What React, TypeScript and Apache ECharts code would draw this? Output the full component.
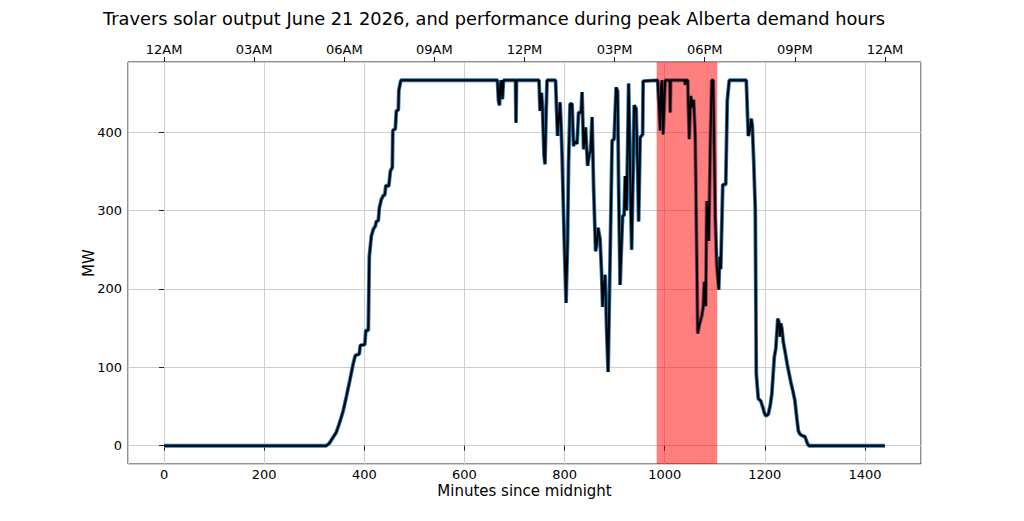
import React, { useEffect, useRef } from "react";
import * as echarts from "echarts";

const minutes = [
  0, 324, 330, 338, 344, 351, 358, 364, 371, 378, 382, 390, 392, 401, 403, 408, 410, 414, 418, 422, 424, 428, 430, 434, 438, 441, 443, 449, 452, 456, 457, 462, 464, 468, 469, 473,
  666, 668, 670, 672, 674, 676, 678, 702, 703, 704,
  749, 751, 754, 756, 759, 761, 763, 765, 782, 786, 789, 791, 793, 795, 799, 803, 806, 808, 811,
  815, 818, 820, 822, 825, 828, 833, 835, 838, 842, 846, 850, 852, 855, 858, 862, 865, 867, 871, 874, 876, 878, 881, 884, 887, 891, 895, 899, 903, 906, 908, 911, 914, 916, 919, 921, 924, 928, 931, 934, 937, 939, 943, 946, 948, 951, 956, 957, 984,
  986, 989, 991, 993, 995, 997, 999, 1001, 1010, 1011, 1012, 1040, 1041, 1042, 1046, 1049, 1052, 1054, 1056, 1058, 1061, 1066, 1070, 1074, 1077, 1079, 1082, 1084, 1086, 1088, 1091, 1094, 1097, 1101, 1104, 1108, 1110, 1112, 1116, 1122, 1125, 1129,
  1163, 1167, 1170, 1173, 1175, 1178, 1181, 1183, 1185, 1187, 1192, 1196, 1199, 1202, 1207, 1211, 1214, 1219, 1222, 1226, 1228, 1230, 1232, 1234, 1237, 1241, 1245, 1252, 1256, 1260, 1264, 1267, 1270, 1274, 1278, 1280, 1285, 1288, 1440,
];

const mw = [
  0, 0, 3, 11, 17, 30, 45, 62, 83, 105, 115, 117, 128, 129, 147, 147, 241, 267, 276, 280, 286, 287, 303, 314, 319, 320, 332, 331, 350, 355, 402, 404, 427, 428, 453, 466,
  466, 440, 434, 462, 466, 442, 466, 466, 412, 466,
  466, 427, 450, 430, 370, 359, 420, 466, 466, 395, 420, 438, 410, 372, 270, 182, 260, 360, 436,
  436, 382, 388, 387, 385, 425, 425, 451, 378, 406, 357, 374, 374, 419, 330, 248, 260, 278, 263, 220, 177, 200, 218, 150, 94, 240, 389, 391, 457, 452, 330, 205, 260, 293, 294, 344, 300, 462, 350, 250, 350, 434, 430, 350, 286, 393, 397, 465, 466,
  466, 430, 402, 460, 466, 397, 430, 466, 466, 425, 466, 466, 460, 466, 466, 391, 446, 440, 431, 441, 395, 143, 156, 165, 177, 209, 178, 312, 290, 261, 380, 466, 466, 291, 230, 199, 241, 225, 333, 333, 440, 466,
  466, 395, 402, 417, 409, 360, 301, 92, 75, 60, 57, 49, 42, 38, 40, 52, 66, 113, 124, 162, 158, 139, 156, 150, 132, 118, 103, 81, 70, 58, 35, 19, 15, 13, 12, 12, 3, 0, 0,
];

const peakWindow = [984, 1105];
const clockMinutes = [0, 180, 360, 540, 720, 900, 1080, 1260, 1440];
const clockLabels = ["12AM", "03AM", "06AM", "09AM", "12PM", "03PM", "06PM", "09PM", "12AM"];

const X_MIN = -72;
const X_MAX = 1512;
const Y_MIN = -23.3;
const Y_MAX = 489.3;

const FONT = "DejaVu Sans";

export default function App() {
  const ref = useRef<HTMLDivElement>(null);

  useEffect(() => {
    if (!ref.current) return;
    const chart = echarts.init(ref.current, undefined, { renderer: "svg" });
    const points = minutes.map((m, i) => [m, mw[i]]);

    chart.setOption({
      animation: false,
      backgroundColor: "#ffffff",
      title: {
        text: "Travers solar output June 21 2026, and performance during peak Alberta demand hours",
        left: 103,
        top: 9,
        padding: 0,
        textStyle: { fontFamily: FONT, fontSize: 17.8, fontWeight: "normal", color: "#000" },
      },
      grid: {
        left: 128,
        top: 62,
        width: 793,
        height: 402,
        show: true,
        borderColor: "#222",
        borderWidth: 1,
        backgroundColor: "transparent",
      },
      xAxis: [
        {
          type: "value",
          min: X_MIN,
          max: X_MAX,
          splitNumber: 7,
          position: "bottom",
          name: "Minutes since midnight",
          nameLocation: "middle",
          nameGap: 19,
          nameMoveOverlap: false,
          nameTextStyle: { fontFamily: FONT, fontSize: 15, color: "#000", verticalAlign: "top" },
          axisLine: { show: false },
          axisTick: { show: true, inside: false, length: 5, lineStyle: { color: "#222", width: 1 } },
          axisLabel: {
            show: true,
            margin: 4,
            fontFamily: FONT,
            fontSize: 13,
            color: "#000",
            showMinLabel: false,
            showMaxLabel: false,
            formatter: (v: number) => String(Math.round(v)),
          },
          splitLine: { show: true, lineStyle: { color: "#cfcfcf", width: 1 } },
        },
        {
          type: "value",
          min: X_MIN,
          max: X_MAX,
          position: "top",
          axisLine: { show: false },
          axisTick: {
            show: true,
            inside: false,
            length: 5,
            customValues: clockMinutes,
            lineStyle: { color: "#222", width: 1 },
          },
          axisLabel: {
            show: true,
            margin: 6,
            fontFamily: FONT,
            fontSize: 13,
            color: "#000",
            customValues: clockMinutes,
            formatter: (v: number) => {
              const i = clockMinutes.indexOf(Math.round(v));
              return i >= 0 ? clockLabels[i] : "";
            },
          },
          splitLine: { show: false },
        },
      ],
      yAxis: {
        type: "value",
        min: Y_MIN,
        max: Y_MAX,
        splitNumber: 5,
        name: "MW",
        nameLocation: "middle",
        nameRotate: 90,
        nameGap: 32,
        nameMoveOverlap: false,
        nameTextStyle: { fontFamily: FONT, fontSize: 15, color: "#000" },
        axisLine: { show: false },
        axisTick: { show: true, inside: false, length: 5, lineStyle: { color: "#222", width: 1 } },
        axisLabel: {
          margin: 6,
          fontFamily: FONT,
          fontSize: 13,
          color: "#000",
          showMinLabel: false,
          showMaxLabel: false,
          formatter: (v: number) => String(Math.round(v)),
        },
        splitLine: { show: true, lineStyle: { color: "#cfcfcf", width: 1 } },
      },
      series: [
        {
          type: "line",
          name: "outline",
          xAxisIndex: 0,
          yAxisIndex: 0,
          data: points,
          showSymbol: false,
          symbol: "none",
          z: 2,
          lineStyle: { color: "#1f77b4", width: 3.8 },
          silent: true,
        },
        {
          type: "custom",
          name: "peak",
          xAxisIndex: 0,
          yAxisIndex: 0,
          z: 3,
          silent: true,
          clip: false,
          encode: { x: [0, 1], y: 2 },
          data: [[peakWindow[0], peakWindow[1], 0]],
          renderItem: (params: any, api: any) => {
            const x0 = api.coord([api.value(0), 0])[0];
            const x1 = api.coord([api.value(1), 0])[0];
            const cs = params.coordSys;
            return {
              type: "rect",
              shape: { x: x0, y: cs.y, width: x1 - x0, height: cs.height },
              style: { fill: "rgba(255,0,0,0.5)" },
            };
          },
        },
        {
          type: "line",
          name: "output",
          xAxisIndex: 0,
          yAxisIndex: 0,
          data: points,
          showSymbol: false,
          symbol: "none",
          z: 4,
          lineStyle: { color: "#000000", width: 2 },
          silent: true,
        },
      ],
    });

    return () => chart.dispose();
  }, []);

  return (
    <div
      ref={ref}
      style={{ position: "absolute", left: 0, top: 0, width: 1024, height: 521, background: "#fff" }}
    />
  );
}
